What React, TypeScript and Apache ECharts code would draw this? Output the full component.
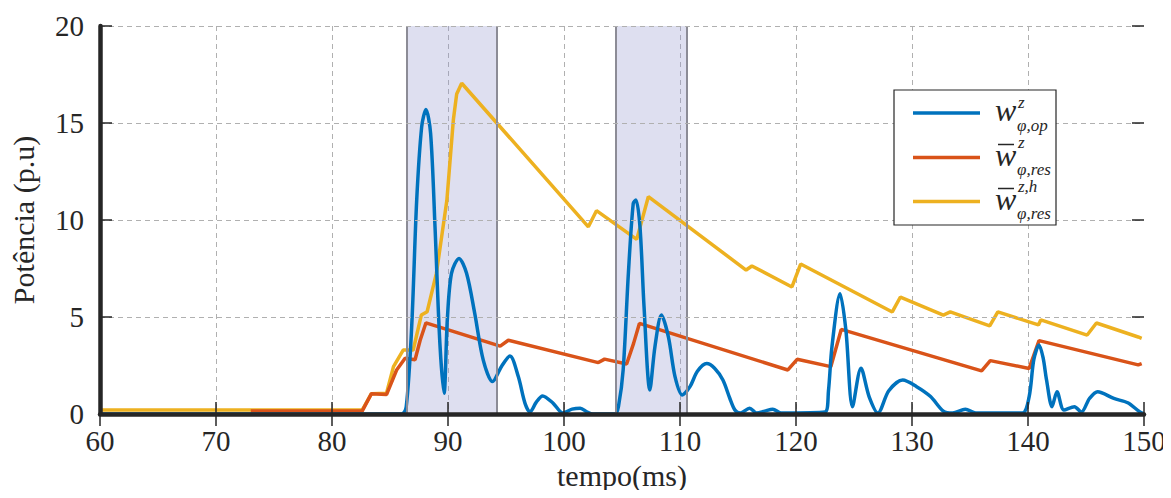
import React, { useEffect, useRef } from "react";
import * as echarts from "echarts";

// ---- data (time in ms, power in p.u) ----
const blueData: [number, number][] = [
  [60, 0], [86.0, 0], [86.4, 0.38], [86.87, 4.5], [87.3, 11.0], [87.73, 14.8], [88.1, 15.7],
  [88.5, 14.47], [88.88, 9.65], [89.3, 3.64], [89.66, 1.07], [89.94, 4.85], [90.3, 7.25],
  [90.95, 8.02], [91.6, 7.25], [92.3, 5.2], [93.04, 2.78], [93.84, 1.67], [94.6, 2.44],
  [95.34, 2.99], [96.06, 1.93], [96.64, 0.55], [97.07, 0.1], [97.6, 0.6], [98.16, 0.93],
  [99.07, 0.55], [99.9, 0.05], [100.7, 0.25], [101.4, 0.3], [102.0, 0.1], [102.5, 0],
  [104.4, 0], [104.7, 0.4], [105.1, 2.27], [105.55, 7.25], [105.97, 10.86], [106.2, 11.03],
  [106.55, 9.65], [106.9, 5.53], [107.4, 1.24], [107.84, 3.47], [108.4, 5.1], [109.0, 3.98],
  [109.57, 1.93], [110.2, 0.98], [110.86, 1.41], [111.5, 2.2], [112.3, 2.6], [113.0, 2.35],
  [113.7, 1.75], [114.3, 0.8], [114.74, 0.2], [115.2, 0.05], [116.0, 0.3], [116.6, 0.05],
  [117.3, 0.15], [118.0, 0.25], [118.7, 0.05], [122.5, 0.1], [122.8, 1.2], [123.1, 3.47],
  [123.8, 6.2], [124.3, 4.33], [124.87, 0.38], [125.6, 2.36], [126.3, 0.9], [127.06, 0.05],
  [128.0, 1.2], [129.2, 1.75], [130.4, 1.41], [131.6, 0.9], [132.7, 0.15], [133.5, 0.05],
  [134.6, 0.25], [135.5, 0.05], [139.5, 0.05], [140.1, 0.9], [140.5, 2.8], [140.95, 3.56],
  [141.3, 2.9], [141.6, 1.75], [142.07, 0.38], [142.5, 1.15], [143.1, 0.2], [144.0, 0.38],
  [144.6, 0.1], [145.3, 0.8], [146.0, 1.15], [147.4, 0.8], [148.6, 0.58], [149.65, 0.1], [150, 0],
];

const orangeData: [number, number][] = [
  [73, 0.15], [82.6, 0.15], [83.4, 1.05], [84.7, 1.0], [85.57, 2.27], [86.3, 2.87],
  [87.16, 2.8], [87.6, 3.8], [88.1, 4.7], [94.5, 3.5], [95.2, 3.8], [102.96, 2.65],
  [103.5, 2.83], [105.4, 2.58], [106.0, 3.64], [106.5, 4.67], [119.3, 2.27], [120.1, 2.82],
  [123.0, 2.44], [123.9, 4.36], [136.0, 2.22], [136.75, 2.75], [140.1, 2.35], [140.95, 3.78],
  [149.5, 2.53], [149.8, 2.6],
];

const yellowData: [number, number][] = [
  [60, 0.2], [82.6, 0.2], [83.4, 1.05], [84.7, 1.07], [85.3, 2.44], [86.15, 3.3], [87.0, 3.3],
  [87.7, 5.1], [88.2, 5.27], [89.0, 7.25], [89.9, 11.0], [90.46, 15.15], [90.75, 16.5],
  [91.18, 17.05], [102.1, 9.65], [102.8, 10.48], [106.27, 9.0], [107.27, 11.2], [115.7, 7.42],
  [116.2, 7.63], [119.65, 6.55], [120.4, 7.73], [128.3, 5.26], [129.0, 6.03], [132.7, 5.1],
  [133.3, 5.26], [136.7, 4.54], [137.4, 5.26], [140.9, 4.59], [141.1, 4.85], [145.1, 4.07],
  [145.9, 4.69], [149.5, 3.97], [149.8, 3.9],
];

const shadeStart = [86.45, 104.5];
const shadeEnd = [94.2, 110.55];

const seriesColors = ["#0072BD", "#D95319", "#EDB120"];
const legendSup = ["z", "z", "z,h"];
const legendSub = ["φ,op", "φ,res", "φ,res"];
const legendBar = [false, true, true];

const xMin = 60, xMax = 150, xStep = 10;
const yMin = 0, yMax = 20, yStep = 5;

const FONT = '"Liberation Serif", "Times New Roman", serif';
const INK = "#262626";

export default function App() {
  const ref = useRef<HTMLDivElement>(null);
  useEffect(() => {
    if (!ref.current) return;
    const chart = echarts.init(ref.current, null, { renderer: "svg" });

    const legendGraphics: any[] = [
      {
        type: "rect",
        shape: { x: 894, y: 90, width: 162, height: 135 },
        style: { fill: "#fff", stroke: INK, lineWidth: 1.2 },
        z: 100,
      },
    ];
    const rowY = [113, 157.5, 201.5];
    seriesColors.forEach((c, i) => {
      const y = rowY[i];
      legendGraphics.push({
        type: "line",
        shape: { x1: 913, y1: y, x2: 980, y2: y },
        style: { stroke: c, lineWidth: 3.5 },
        z: 101,
      });
      legendGraphics.push({
        type: "text",
        x: 995,
        y: y - 3,
        style: { text: "w", font: `italic 32px ${FONT}`, fill: INK, align: "left", verticalAlign: "middle" },
        z: 101,
      });
      if (legendBar[i]) {
        legendGraphics.push({
          type: "line",
          shape: { x1: 998, y1: y - 13, x2: 1014, y2: y - 13 },
          style: { stroke: INK, lineWidth: 1.5 },
          z: 101,
        });
      }
      legendGraphics.push({
        type: "text",
        x: 1018,
        y: y - (legendBar[i] ? 15 : 11),
        style: { text: legendSup[i], font: `italic 17px ${FONT}`, fill: INK, align: "left", verticalAlign: "middle" },
        z: 101,
      });
      legendGraphics.push({
        type: "text",
        x: 1017,
        y: y + 12,
        style: { text: legendSub[i], font: `italic 17px ${FONT}`, fill: INK, align: "left", verticalAlign: "middle" },
        z: 101,
      });
    });

    const lineSeries = (name: string, data: [number, number][], color: string, z: number, smooth: number | boolean) => ({
      name,
      type: "line",
      data,
      showSymbol: false,
      symbol: "none",
      smooth,
      lineStyle: { color, width: 3.5 },
      itemStyle: { color },
      z,
      clip: true,
    });

    const gridLine = { color: "#b0b0b0", width: 1, type: [5, 4] };

    chart.setOption({
      animation: false,
      backgroundColor: "#ffffff",
      textStyle: { fontFamily: FONT },
      grid: { left: 100, right: 27, top: 26, bottom: 84, containLabel: false },
      xAxis: [
        {
          type: "value", position: "bottom", min: xMin, max: xMax, interval: xStep,
          axisLine: { show: false }, axisTick: { show: false },
          axisLabel: { fontSize: 29, color: INK, fontFamily: FONT, margin: 12 },
          splitLine: { show: true, showMinLine: false, showMaxLine: false, lineStyle: gridLine },
          name: "tempo(ms)", nameLocation: "middle", nameGap: 46,
          nameTextStyle: { fontSize: 30, color: INK, fontFamily: FONT },
        },
        {
          type: "value", position: "bottom", min: xMin, max: xMax, interval: xStep, z: 10,
          axisLine: { show: true, onZero: false, lineStyle: { color: INK, width: 4.5 } },
          axisTick: { show: true, inside: true, length: 12, lineStyle: { color: INK, width: 1.5 } },
          axisLabel: { show: false }, splitLine: { show: false },
        },
        {
          type: "value", position: "top", min: xMin, max: xMax, interval: xStep, z: 10,
          axisLine: { show: false },
          axisTick: { show: true, inside: true, length: 12, lineStyle: { color: INK, width: 1.5 } },
          axisLabel: { show: false }, splitLine: { show: false },
        },
      ],
      yAxis: [
        {
          type: "value", position: "left", min: yMin, max: yMax, interval: yStep, z: 10,
          axisLine: { show: true, onZero: false, lineStyle: { color: INK, width: 4.5 } },
          axisTick: { show: true, inside: true, length: 12, lineStyle: { color: INK, width: 1.5 } },
          axisLabel: { fontSize: 29, color: INK, fontFamily: FONT, margin: 16 },
          splitLine: { show: true, showMinLine: false, lineStyle: gridLine },
          name: "Potência (p.u)", nameLocation: "middle", nameGap: 62,
          nameTextStyle: { fontSize: 30, color: INK, fontFamily: FONT },
        },
        {
          type: "value", position: "right", min: yMin, max: yMax, interval: yStep, z: 10,
          axisLine: { show: false },
          axisTick: { show: true, inside: true, length: 12, lineStyle: { color: INK, width: 1.5 } },
          axisLabel: { show: false }, splitLine: { show: false },
        },
      ],
      series: [
        {
          name: "shade",
          type: "line",
          data: [],
          z: 1,
          silent: true,
          markArea: {
            silent: true,
            itemStyle: { color: "rgba(145,148,205,0.3)", borderWidth: 0 },
            data: shadeStart.map((s, i) => [{ xAxis: s }, { xAxis: shadeEnd[i] }]),
          },
          markLine: {
            silent: true,
            symbol: "none",
            label: { show: false },
            lineStyle: { color: "#8c8c96", width: 2, type: "solid" },
            data: [...shadeStart, ...shadeEnd].map((x) => ({ xAxis: x })),
          },
        },
        lineSeries("yellow", yellowData, seriesColors[2], 2, false),
        lineSeries("orange", orangeData, seriesColors[1], 3, false),
        lineSeries("blue", blueData, seriesColors[0], 4, 0.3),
      ],
      graphic: legendGraphics,
    });

    return () => chart.dispose();
  }, []);

  return <div ref={ref} style={{ width: 1171, height: 498, margin: -8 }} />;
}
